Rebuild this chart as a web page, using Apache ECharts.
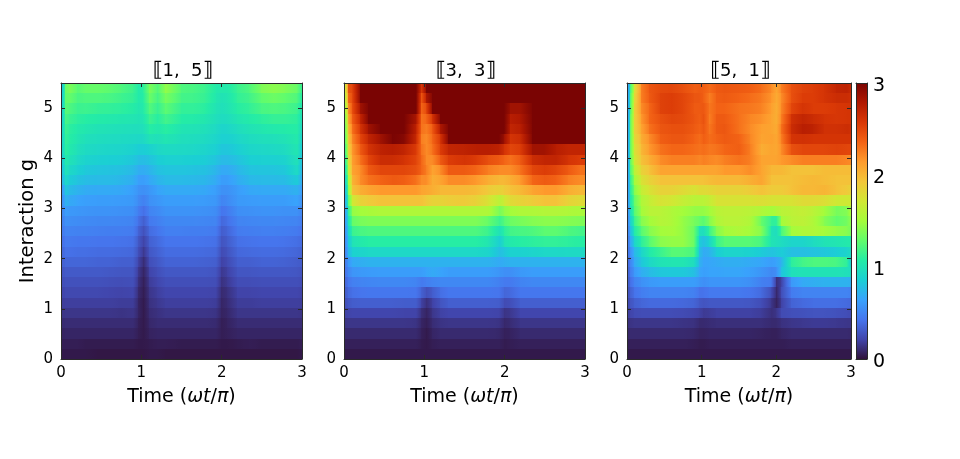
<!DOCTYPE html>
<html><head><meta charset="utf-8">
<style>html,body{margin:0;padding:0;background:#fff}#c{width:960px;height:459px}</style>
<script src="https://cdn.jsdelivr.net/npm/echarts@6/dist/echarts.min.js"></script>
</head><body><div id="c"></div>
<script>
const times=[0,.05,.1,.2,.3,.45,.6,.75,.9,.97,1.03,1.1,1.2,1.3,1.5,1.65,1.8,1.93,2,2.07,2.2,2.35,2.5,2.65,2.8,2.95,3];
const panelTitles=['{b|⟦}1,  5{b|⟧}','{b|⟦}3,  3{b|⟧}','{b|⟦}5,  1{b|⟧}'];
const colorTicks=[0,1,2,3];
const turbo=["#30123b","#4145ab","#4675ed","#39a2fc","#1bcfd4","#24eca6","#61fc6c","#a4fc3b","#d1e834","#f3c63a","#fe9b2d","#f36315","#d93806","#b11901","#7a0403"];
// rows run from g = 0 upward, columns follow `times`
const rows15=[
[.03,.03,.03,.03,.03,.02,.02,.02,.02,.02,.02,.03,.03,.02,.02,.02,.02,.02,.02,.02,.02,.02,.02,.02,.02,.02,.03],
[.05,.05,.05,.05,.04,.04,.04,.04,.04,.03,.03,.04,.05,.05,.04,.04,.04,.04,.03,.03,.04,.05,.04,.04,.04,.04,.05],
[.07,.08,.08,.08,.08,.08,.08,.08,.08,.05,.03,.07,.08,.08,.08,.08,.08,.08,.05,.06,.08,.08,.08,.08,.08,.08,.08],
[.1,.11,.11,.11,.11,.11,.11,.11,.11,.06,.03,.09,.11,.11,.11,.11,.11,.1,.05,.07,.11,.11,.11,.11,.11,.11,.11],
[.14,.15,.15,.15,.15,.15,.15,.14,.15,.08,.03,.11,.13,.15,.15,.15,.15,.14,.07,.09,.15,.15,.15,.15,.15,.15,.14],
[.18,.19,.19,.19,.19,.19,.19,.18,.18,.08,.03,.13,.16,.19,.19,.19,.19,.18,.08,.11,.18,.18,.19,.19,.19,.19,.18],
[.21,.23,.23,.23,.23,.23,.22,.21,.22,.1,.04,.15,.19,.22,.22,.22,.22,.21,.1,.13,.21,.21,.22,.22,.22,.22,.2],
[.25,.27,.27,.27,.27,.27,.26,.25,.26,.13,.05,.18,.22,.26,.26,.26,.26,.25,.13,.17,.25,.25,.26,.26,.26,.26,.24],
[.28,.31,.31,.31,.31,.31,.3,.29,.29,.16,.07,.21,.26,.3,.3,.3,.3,.28,.16,.2,.29,.29,.3,.3,.3,.29,.27],
[.33,.36,.36,.36,.36,.35,.35,.33,.33,.21,.1,.26,.3,.35,.35,.35,.34,.33,.2,.24,.33,.33,.35,.35,.34,.32,.31],
[.36,.41,.41,.4,.4,.39,.39,.38,.37,.26,.15,.3,.34,.39,.39,.39,.38,.37,.24,.28,.37,.38,.39,.39,.38,.36,.34],
[.4,.45,.45,.44,.44,.43,.43,.42,.41,.3,.2,.34,.38,.43,.43,.43,.42,.41,.28,.32,.41,.42,.43,.43,.42,.4,.38],
[.44,.5,.5,.49,.49,.48,.47,.47,.46,.35,.26,.39,.43,.48,.48,.47,.47,.45,.32,.36,.46,.47,.48,.48,.47,.45,.42],
[.47,.56,.55,.54,.53,.52,.52,.51,.5,.41,.32,.45,.48,.52,.52,.52,.51,.5,.37,.41,.5,.51,.52,.52,.51,.5,.46],
[.5,.62,.6,.59,.58,.57,.57,.56,.55,.47,.4,.5,.53,.57,.57,.57,.56,.54,.43,.46,.55,.56,.57,.57,.56,.56,.5],
[.52,.72,.68,.65,.63,.62,.62,.61,.6,.53,.48,.56,.59,.62,.62,.62,.61,.59,.5,.53,.6,.61,.62,.62,.62,.65,.55],
[.55,.82,.76,.72,.69,.68,.68,.67,.63,.57,.55,.59,.65,.68,.68,.68,.67,.62,.56,.56,.62,.67,.68,.68,.68,.72,.6],
[.7,.92,.85,.8,.77,.76,.76,.74,.7,.63,.62,.67,.73,.76,.76,.75,.74,.68,.62,.62,.69,.75,.76,.76,.77,.85,.65],
[.75,1,.93,.87,.83,.81,.8,.79,.75,.7,.69,.73,.79,.81,.81,.8,.79,.73,.68,.68,.74,.8,.81,.81,.83,.95,.7],
[.8,1.05,1,.93,.89,.87,.86,.85,.82,.78,.77,.8,.85,.87,.87,.86,.85,.8,.76,.76,.8,.86,.87,.87,.89,1,.75],
[.85,1.1,1.05,.98,.94,.92,.91,.9,.88,.85,.85,.88,.92,.94,.93,.92,.9,.86,.82,.82,.86,.91,.92,.93,.95,1.03,.8],
[.85,1.12,1.08,1.02,.98,.96,.95,.94,.93,.92,.93,1,.98,1.02,.97,.96,.94,.9,.87,.87,.91,.95,.97,.98,1,1.06,.85],
[.85,1.15,1.1,1.05,1.03,1,.99,.98,.97,.97,.98,1.08,1.04,1.09,1.01,1,.98,.93,.9,.91,.96,1,1.03,1.05,1.06,1.08,.9],
[.8,1.2,1.15,1.1,1.08,1.06,1.05,1.03,1.02,1,1.02,1.16,1.08,1.18,1.07,1.06,1.03,.97,.95,.96,1.02,1.06,1.1,1.13,1.13,1.1,.95],
[.8,1.25,1.22,1.15,1.16,1.13,1.12,1.1,1.07,1.03,1.06,1.24,1.13,1.27,1.12,1.12,1.09,1,.98,1,1.08,1.12,1.2,1.22,1.2,1.15,1],
[.75,1.28,1.3,1.2,1.22,1.22,1.2,1.16,1.12,1.05,1.08,1.32,1.18,1.36,1.18,1.17,1.13,1.03,1,1.02,1.12,1.17,1.28,1.32,1.28,1.22,1.05],
[.7,1.3,1.38,1.25,1.3,1.3,1.27,1.22,1.15,1.05,1.1,1.38,1.22,1.45,1.22,1.2,1.15,1.05,1.05,1.05,1.15,1.22,1.38,1.42,1.38,1.3,1.1]
];
const rows33=[
[.03,.03,.03,.03,.03,.03,.03,.03,.03,.03,.03,.03,.03,.03,.03,.03,.03,.03,.03,.03,.03,.03,.03,.03,.03,.03,.03],
[.06,.06,.06,.06,.06,.06,.06,.06,.06,.04,.03,.05,.06,.06,.06,.06,.06,.06,.04,.05,.06,.06,.06,.06,.06,.06,.06],
[.1,.1,.1,.1,.1,.1,.1,.1,.1,.06,.03,.08,.1,.1,.1,.1,.1,.09,.06,.07,.1,.1,.1,.1,.1,.1,.1],
[.14,.15,.15,.15,.15,.15,.15,.15,.14,.08,.05,.11,.14,.15,.15,.15,.15,.14,.09,.11,.15,.15,.15,.15,.15,.15,.15],
[.2,.21,.22,.22,.22,.22,.22,.21,.21,.12,.07,.15,.2,.22,.22,.22,.22,.21,.14,.16,.22,.22,.22,.22,.22,.22,.22],
[.25,.3,.32,.33,.33,.33,.33,.32,.32,.2,.12,.2,.28,.33,.33,.33,.33,.32,.24,.26,.33,.33,.33,.33,.33,.33,.33],
[.3,.38,.41,.43,.44,.44,.44,.44,.43,.34,.26,.32,.4,.44,.44,.44,.44,.43,.36,.38,.44,.44,.44,.44,.44,.44,.44],
[.35,.44,.48,.5,.51,.52,.52,.52,.5,.45,.48,.5,.52,.52,.52,.52,.52,.48,.45,.45,.5,.52,.52,.52,.52,.52,.52],
[.4,.52,.58,.6,.61,.62,.62,.62,.62,.62,.65,.68,.65,.62,.62,.62,.62,.58,.55,.55,.6,.62,.62,.62,.62,.62,.62],
[.42,.6,.68,.7,.72,.72,.72,.72,.72,.72,.72,.72,.72,.72,.72,.72,.72,.68,.7,.72,.72,.72,.72,.72,.72,.72,.72],
[.44,.75,.88,.9,.92,.92,.92,.92,.92,.92,.92,.92,.92,.92,.92,.92,.9,.78,.82,.88,.88,.9,.92,.92,.93,.93,.93],
[.46,.82,1,1.05,1.08,1.08,1.08,1.08,1.08,1.08,1.08,1.08,1.08,1.08,1.08,1.08,1.02,.85,1,1.05,1.08,1.1,1.12,1.12,1.1,1.08,1.08],
[.48,.9,1.15,1.2,1.22,1.22,1.22,1.22,1.22,1.22,1.22,1.22,1.22,1.22,1.22,1.22,1.15,.98,1.1,1.18,1.2,1.22,1.27,1.27,1.22,1.18,1.18],
[.5,1,1.3,1.36,1.38,1.38,1.38,1.38,1.38,1.38,1.38,1.38,1.38,1.38,1.38,1.38,1.3,1.15,1.25,1.32,1.36,1.4,1.42,1.42,1.4,1.38,1.38],
[.5,1.1,1.45,1.5,1.52,1.55,1.55,1.55,1.55,1.55,1.55,1.55,1.55,1.55,1.55,1.55,1.55,1.35,1.45,1.5,1.55,1.55,1.57,1.57,1.55,1.53,1.53],
[.55,1.25,1.7,1.85,1.9,1.95,1.95,1.95,1.95,1.95,1.9,1.85,1.85,1.88,1.9,1.85,1.75,1.6,1.7,1.8,1.85,1.9,1.95,1.95,1.85,1.8,1.8],
[.6,1.4,1.95,2.05,2.1,2.15,2.15,2.15,2.15,2.1,2.08,2.05,2,2,2,1.98,1.9,1.85,1.9,1.95,2,2.1,2.15,2.15,2.05,2,2],
[.7,1.5,2.02,2.2,2.3,2.36,2.4,2.38,2.3,2.2,2.2,2.05,2.1,2.2,2.2,2.15,2.05,2,2,2.05,2.15,2.35,2.4,2.36,2.25,2.2,2.2],
[.8,1.65,2.1,2.2,2.4,2.5,2.5,2.5,2.45,2.35,2.25,2.1,2.2,2.4,2.4,2.35,2.25,2.2,2.2,2.2,2.3,2.5,2.55,2.5,2.4,2.3,2.3],
[.9,1.75,2.12,2.3,2.5,2.65,2.65,2.6,2.5,2.35,2.2,2.2,2.4,2.55,2.6,2.55,2.45,2.4,2.35,2.3,2.4,2.65,2.7,2.7,2.6,2.55,2.55],
[1,1.85,2.15,2.4,2.6,2.72,2.75,2.7,2.55,2.3,2.2,2.3,2.55,2.7,2.72,2.75,2.75,2.72,2.6,2.5,2.55,2.85,2.85,2.75,2.7,2.7,2.7],
[1.1,1.92,2.22,2.5,2.7,2.85,3,2.95,2.65,2.25,2.2,2.35,2.6,3,3,3,3,3,2.85,2.6,2.65,3,3,3,3,3,3],
[1.15,2,2.3,2.6,2.85,3,3,3,2.7,2.3,2.25,2.4,2.8,3,3,3,3,3,3,2.7,2.75,3,3,3,3,3,3],
[1.2,2.1,2.38,2.7,3,3,3,3,2.8,2.3,2.35,2.6,3,3,3,3,3,3,3,2.75,2.8,3,3,3,3,3,3],
[1.3,2.2,2.45,2.85,3,3,3,3,3,2.35,2.5,3,3,3,3,3,3,3,3,2.85,2.85,3,3,3,3,3,3],
[1.4,2.35,2.48,3,3,3,3,3,3,2.4,2.8,3,3,3,3,3,3,3,3,3,3,3,3,3,3,3,3],
[1.5,2.45,2.5,3,3,3,3,3,3,2.55,3,3,3,3,3,3,3,3,3,3,3,3,3,3,3,3,3]
];
const rows51=[
[.03,.03,.03,.03,.03,.03,.03,.03,.03,.03,.03,.03,.03,.03,.03,.03,.03,.03,.03,.03,.03,.03,.03,.03,.03,.03,.03],
[.05,.06,.06,.06,.06,.06,.06,.06,.05,.04,.04,.05,.05,.05,.05,.05,.05,.05,.05,.05,.06,.06,.06,.06,.06,.06,.06],
[.08,.1,.1,.1,.1,.1,.1,.1,.09,.07,.07,.08,.08,.08,.08,.08,.07,.06,.06,.08,.1,.1,.1,.1,.1,.1,.09],
[.12,.14,.15,.15,.15,.15,.15,.14,.13,.1,.1,.11,.12,.12,.12,.12,.12,.1,.1,.13,.15,.16,.17,.17,.16,.15,.15],
[.18,.21,.24,.25,.25,.25,.25,.24,.22,.2,.17,.18,.2,.2,.2,.2,.18,.12,.15,.24,.26,.27,.28,.28,.27,.25,.24],
[.22,.28,.33,.36,.38,.38,.38,.37,.35,.3,.28,.3,.3,.3,.3,.29,.25,.15,.06,.2,.35,.38,.4,.4,.4,.38,.37],
[.26,.34,.42,.47,.5,.5,.5,.5,.48,.42,.42,.45,.45,.45,.45,.43,.38,.25,.08,.25,.46,.5,.5,.5,.5,.5,.48],
[.3,.4,.5,.56,.6,.62,.62,.62,.62,.58,.55,.58,.58,.58,.58,.55,.48,.45,.12,.2,.6,.68,.7,.72,.72,.72,.7],
[.32,.46,.6,.7,.76,.82,.83,.83,.78,.66,.63,.65,.65,.66,.66,.63,.58,.52,.55,.8,.98,1,1,1,1,.98,.95],
[.35,.5,.68,.82,.92,1,1.02,1.02,.95,.72,.65,.66,.68,.7,.7,.68,.66,.62,.65,.72,1.1,1.18,1.22,1.22,1.2,1.1,.8],
[.4,.55,.75,.9,1.05,1.15,1.25,1.25,1.2,.78,.68,.72,.85,.9,.9,.88,.84,.8,.82,.85,.78,.78,.8,.82,.85,.9,.95],
[.42,.65,.9,1.1,1.25,1.42,1.45,1.45,1.3,.85,.78,.9,1.15,1.25,1.25,1.25,1.2,1,.98,.95,.9,.9,.95,1,1.02,1.05,1.05],
[.44,.75,1.05,1.25,1.4,1.5,1.52,1.45,1.3,.98,.95,1.15,1.4,1.5,1.55,1.5,1.4,1,.95,1.2,1.5,1.55,1.55,1.5,1.45,1.4,1.35],
[.46,.85,1.15,1.4,1.5,1.58,1.55,1.45,1.35,1.3,1.25,1.4,1.55,1.6,1.6,1.55,1.3,1.12,1.1,1.5,1.6,1.62,1.55,1.4,1.28,1.35,1.45],
[.48,.95,1.25,1.5,1.6,1.6,1.55,1.5,1.45,1.45,1.45,1.5,1.6,1.62,1.62,1.6,1.55,1.5,1.55,1.6,1.62,1.65,1.6,1.5,1.35,1.4,1.55],
[.5,1,1.3,1.55,1.65,1.75,1.72,1.65,1.6,1.6,1.6,1.65,1.75,1.75,1.75,1.75,1.78,1.75,1.75,1.75,1.75,1.8,1.8,1.78,1.7,1.7,1.7],
[.5,1.05,1.4,1.65,1.75,1.85,1.85,1.8,1.75,1.8,1.8,1.82,1.85,1.85,1.85,1.9,1.95,1.9,1.9,1.9,1.95,2,2,2.02,1.95,1.9,1.85],
[.5,1.1,1.5,1.75,1.85,1.95,1.95,1.95,1.95,1.95,1.95,1.98,2,2,2,2.05,2.1,1.95,1.95,1.95,1.95,1.98,2,1.98,1.95,1.95,1.95],
[.5,1.2,1.6,1.85,1.95,2.1,2.1,2.1,2.1,2.1,2.1,2.1,2.1,2.15,2.15,2.2,2.1,2,2,2,1.95,1.95,1.95,1.98,1.98,1.98,1.98],
[.48,1.25,1.7,1.95,2.05,2.2,2.25,2.25,2.25,2.22,2.25,2.22,2.2,2.25,2.3,2.25,2.1,2.1,2.1,2.15,2.2,2.25,2.25,2.25,2.25,2.22,2.2],
[.48,1.25,1.75,2,2.15,2.3,2.35,2.35,2.32,2.3,2.32,2.28,2.3,2.35,2.38,2.25,2.05,2.1,2.08,2.2,2.45,2.5,2.5,2.5,2.52,2.5,2.5],
[.48,1.25,1.8,2.05,2.2,2.38,2.42,2.42,2.36,2.32,2.38,2.32,2.36,2.4,2.36,2.22,2.1,2.12,2.08,2.25,2.6,2.62,2.6,2.6,2.6,2.6,2.6],
[.48,1.25,1.85,2.1,2.3,2.42,2.45,2.45,2.4,2.36,2.42,2.28,2.4,2.42,2.3,2.2,2.12,2.1,2.06,2.3,2.65,2.75,2.72,2.62,2.62,2.65,2.62],
[.48,1.25,1.85,2.15,2.35,2.45,2.5,2.48,2.42,2.38,2.45,2.25,2.4,2.4,2.3,2.22,2.18,2.1,2.04,2.25,2.62,2.7,2.65,2.6,2.58,2.6,2.6],
[.48,1.2,1.85,2.2,2.35,2.52,2.55,2.5,2.4,2.4,2.42,2.28,2.36,2.36,2.3,2.28,2.24,2.12,2.04,2.22,2.5,2.6,2.55,2.55,2.58,2.6,2.6],
[.48,1.2,1.8,2.25,2.4,2.52,2.55,2.5,2.42,2.42,2.38,2.25,2.38,2.4,2.36,2.32,2.27,2.16,2.06,2.2,2.45,2.55,2.55,2.6,2.65,2.65,2.62],
[.48,1.15,1.75,2.25,2.42,2.48,2.5,2.45,2.38,2.4,2.38,2.32,2.4,2.42,2.4,2.38,2.32,2.2,2.08,2.25,2.45,2.52,2.55,2.6,2.7,2.72,2.65]
];
const panelRows=[rows15,rows33,rows51];
const gMax=5.5, tMax=3, vMax=3;
const gStep=gMax/rows15.length;
const panels=[{left:61,width:241},{left:344,width:241},{left:627,width:224}];
const barBox={left:856,width:11};
const top0=83,height0=276;
const font='"DejaVu Sans"';
const ink='#2a2a2a';
const colorOf=v=>echarts.color.lerp(Math.min(1,Math.max(0,v/vMax)),turbo);

function cells(rows){
  const out=[];
  rows.forEach((r,i)=>{for(let j=0;j<times.length-1;j++){
    out.push([times[j],times[j+1],i*gStep,(i+1)*gStep,r[j],r[j+1]]);
  }});
  return out;
}
function renderCell(p,api){
  const a=api.coord([api.value(0),api.value(2)]),b=api.coord([api.value(1),api.value(3)]);
  const v0=api.value(4),v1=api.value(5),stops=[];
  for(let k=0;k<=4;k++){stops.push({offset:k/4,color:colorOf(v0+(v1-v0)*k/4)});}
  const x=Math.floor(a[0]),y=Math.round(b[1]);
  return {type:'rect',shape:{x:x,y:y,width:Math.ceil(b[0])-x+1,height:Math.round(a[1])-y},
    style:{fill:new echarts.graphic.LinearGradient(0,0,1,0,stops)}};
}
function renderBar(p,api){
  const a=api.coord([api.value(0),api.value(2)]),b=api.coord([api.value(1),api.value(3)]);
  const stops=turbo.map((c,i)=>({offset:1-i/(turbo.length-1),color:c}));
  return {type:'rect',shape:{x:a[0],y:b[1],width:b[0]-a[0],height:a[1]-b[1]},
    style:{fill:new echarts.graphic.LinearGradient(0,0,0,1,stops)}};
}
const line={show:true,onZero:false,lineStyle:{color:ink,width:1}};
const tick={show:true,inside:true,length:4,lineStyle:{color:ink,width:1}};
const grid=[],xAxis=[],yAxis=[],series=[],title=[];
panels.forEach((p,i)=>{
  grid.push({left:p.left,top:top0,width:p.width,height:height0});
  title.push({text:panelTitles[i],left:p.left+p.width/2-4,top:56,textAlign:'center',
    textStyle:{fontFamily:font,fontSize:18,fontWeight:'normal',color:'#000',
      rich:{b:{fontFamily:font,fontSize:20,fontWeight:'bold',color:'#000'}}}});
  xAxis.push({type:'value',gridIndex:i,min:0,max:tMax,interval:1,position:'bottom',z:5,
    name:'Time ({i|ωt}/{i|π})',nameLocation:'middle',nameGap:29,
    nameTextStyle:{fontFamily:font,fontSize:19,color:'#000',rich:{i:{fontFamily:font,fontStyle:'italic',fontSize:19,color:'#000'}}},
    axisLine:line,axisTick:tick,splitLine:{show:false},
    axisLabel:{fontFamily:font,fontSize:15,color:'#000',margin:7}});
  xAxis.push({type:'value',gridIndex:i,min:0,max:tMax,interval:1,position:'top',z:5,
    axisLine:line,axisTick:tick,splitLine:{show:false},axisLabel:{show:false}});
  const yNamed=i===0?{name:'Interaction g',nameLocation:'middle',nameGap:23,
    nameTextStyle:{fontFamily:font,fontSize:19.5,color:'#000'}}:{};
  yAxis.push(Object.assign({type:'value',gridIndex:i,min:0,max:gMax,interval:1,position:'left',z:5,
    axisLine:line,axisTick:tick,splitLine:{show:false},
    axisLabel:{fontFamily:font,fontSize:15,color:'#000',margin:8,showMaxLabel:false}},yNamed));
  yAxis.push({type:'value',gridIndex:i,min:0,max:gMax,interval:1,position:'right',z:5,
    axisLine:line,axisTick:tick,splitLine:{show:false},axisLabel:{show:false}});
  series.push({type:'custom',xAxisIndex:i*2,yAxisIndex:i*2,coordinateSystem:'cartesian2d',
    clip:true,silent:true,animation:false,encode:{x:[0,1],y:[2,3]},
    renderItem:renderCell,data:cells(panelRows[i])});
});
grid.push({left:barBox.left,top:top0,width:barBox.width,height:height0});
const none={show:false};
xAxis.push({type:'value',gridIndex:3,min:0,max:1,position:'bottom',z:5,axisLine:line,axisTick:none,axisLabel:none,splitLine:none});
xAxis.push({type:'value',gridIndex:3,min:0,max:1,position:'top',z:5,axisLine:line,axisTick:none,axisLabel:none,splitLine:none});
yAxis.push({type:'value',gridIndex:3,min:0,max:vMax,interval:1,position:'left',z:5,axisLine:line,axisTick:none,axisLabel:none,splitLine:none});
yAxis.push({type:'value',gridIndex:3,min:0,max:vMax,interval:1,position:'right',z:5,axisLine:line,axisTick:none,splitLine:none,
  axisLabel:{color:'#000',margin:6,formatter:'{a|{value}}',
    rich:{a:{fontFamily:font,fontSize:19,color:'#000',padding:[6,0,0,0]}}}});
series.push({type:'custom',xAxisIndex:6,yAxisIndex:6,coordinateSystem:'cartesian2d',silent:true,animation:false,
  encode:{x:[0,1],y:[2,3]},renderItem:renderBar,data:[[0,1,colorTicks[0],colorTicks[colorTicks.length-1]]]});
const chart=echarts.init(document.getElementById('c'),null,{renderer:'canvas'});
chart.setOption({animation:false,backgroundColor:'#fff',title,grid,xAxis,yAxis,series});
</script></body></html>
